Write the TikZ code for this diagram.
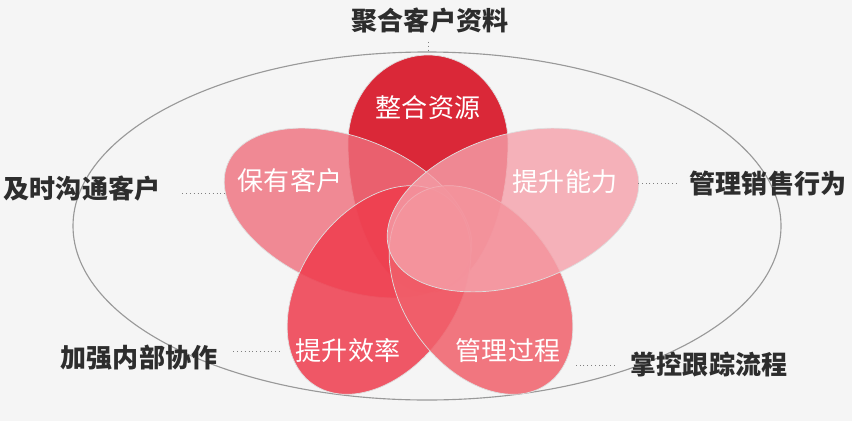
\documentclass[tikz,border=0pt]{standalone}
\usepackage{fontspec}
\setmainfont{Noto Sans CJK SC}
\definecolor{bgcol}{RGB}{245,245,245}
\definecolor{topred}{RGB}{218,40,56}
\definecolor{leftpink}{RGB}{239,111,124}
\definecolor{rightpink}{RGB}{245,161,170}
\definecolor{lowleft}{RGB}{239,60,77}
\definecolor{lowright}{RGB}{241,96,107}
\definecolor{labelgray}{RGB}{45,45,45}
\begin{document}
\begin{tikzpicture}[x=0.025cm,y=-0.025cm,
  petal/.style={draw=white!75!gray, line width=0.5pt, fill opacity=0.8},
  inlabel/.style={text=white, inner sep=0pt, font=\fontsize{18.5}{20}\selectfont},
  outlabel/.style={text=labelgray, inner sep=0pt, font=\fontsize{18.5}{20}\selectfont\bfseries},
  link/.style={draw=gray, dotted, line width=0.7pt}]
  \fill[bgcol] (0,0) rectangle (852,421);
  \draw[gray!80, line width=0.8pt] (427,226) ellipse [x radius=354, y radius=174];
  % petals
  \draw[petal, fill=topred, fill opacity=1] (348,143)
    arc[start angle=180, end angle=360, x radius=80, y radius=88]
    arc[start angle=0, end angle=180, x radius=80, y radius=150] -- cycle;
  \draw[petal, fill=leftpink, rotate around={-22:(348,213)}] (348,213) ellipse [x radius=130, y radius=75];
  \draw[petal, fill=lowleft, fill opacity=0.85, rotate around={55:(379,290)}] (379,290) ellipse [x radius=115, y radius=78];
  \draw[petal, fill=lowright, fill opacity=0.85, rotate around={-55:(481,290)}] (481,290) ellipse [x radius=115, y radius=78];
  \draw[petal, fill=rightpink, rotate around={18:(513,210)}] (513,210) ellipse [x radius=130, y radius=75];
  % petal texts
  \node[inlabel] (zhenghe) at (428,108) {整合资源};
  \node[inlabel] (baoyou) at (290,181) {保有客户};
  \node[inlabel] (nengli) at (565,182) {提升能力};
  \node[inlabel] (xiaolv) at (348,351) {提升效率};
  \node[inlabel] (guocheng) at (508,351) {管理过程};
  % outer texts
  \node[outlabel] (juhe) at (430,21) {聚合客户资料};
  \node[outlabel] (goutong) at (82,189) {及时沟通客户};
  \node[outlabel] (xiaoshou) at (768,184) {管理销售行为};
  \node[outlabel] (xiezuo) at (139,358) {加强内部协作};
  \node[outlabel] (genzong) at (709,365) {掌控跟踪流程};
  % dotted links
  \coordinate (pT) at (428,53);
  \coordinate (pL) at (225,193);
  \coordinate (pR) at (636,183);
  \coordinate (pBL) at (279,351);
  \coordinate (pBR) at (573,365);
  \draw[link, shorten <=0.2cm] (juhe.south -| pT) -- (pT);
  \draw[link, shorten <=0.55cm] (goutong.east |- pL) -- (pL);
  \draw[link, shorten <=0.32cm] (xiaoshou.west |- pR) -- (pR);
  \draw[link, shorten <=0.4cm] (xiezuo.east |- pBL) -- (pBL);
  \draw[link, shorten <=0.4cm] (genzong.west |- pBR) -- (pBR);
\end{tikzpicture}
\end{document}
